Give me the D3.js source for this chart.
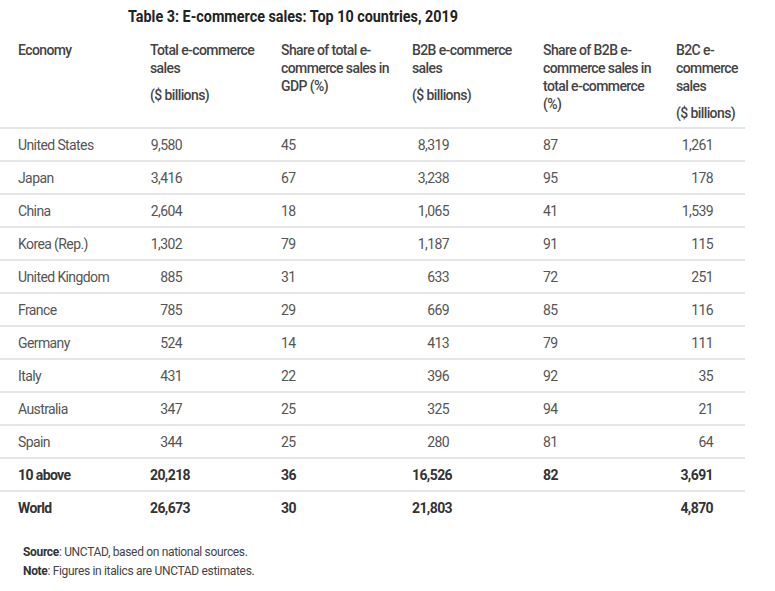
<!DOCTYPE html>
<html>
<head>
<meta charset="utf-8">
<script src="https://cdn.jsdelivr.net/npm/d3@7"></script>
<style>
html,body{margin:0;padding:0;background:#fff;}
svg{display:block;}
</style>
</head>
<body>
<script>
const title = "Table 3: E-commerce sales: Top 10 countries, 2019";
const economies = ["United States","Japan","China","Korea (Rep.)","United Kingdom","France","Germany","Italy","Australia","Spain","10 above","World"];
const totalSales = [9580,3416,2604,1302,885,785,524,431,347,344,20218,26673];
const shareGDP = [45,67,18,79,31,29,14,22,25,25,36,30];
const b2bSales = [8319,3238,1065,1187,633,669,413,396,325,280,16526,21803];
const shareB2B = [87,95,41,91,72,85,79,92,94,81,82,null];
const b2cSales = [1261,178,1539,115,251,116,111,35,21,64,3691,4870];
const boldRows = ["10 above","World"];
const headers = [
  ["Economy"],
  ["Total e-commerce","sales","","($ billions)"],
  ["Share of total e-","commerce sales in","GDP (%)"],
  ["B2B e-commerce","sales","","($ billions)"],
  ["Share of B2B e-","commerce sales in","total e-commerce","(%)"],
  ["B2C e-","commerce","sales","","($ billions)"]
];
const sourceNotes = [["Source",": UNCTAD, based on national sources."],["Note",": Figures in italics are UNCTAD estimates."]];

const W = 775, H = 591;
const svg = d3.select("body").append("svg").attr("width",W).attr("height",H)
  .style("font-family","Roboto, 'Open Sans', sans-serif");

// title
svg.append("text").attr("x",128).attr("y",22)
  .attr("font-size",16).attr("font-weight",700).attr("fill","#222")
  .attr("textLength",330).attr("lengthAdjust","spacingAndGlyphs")
  .text(title);

// column positions
const colX = d3.scaleOrdinal().domain([0,1,2,3,4,5]).range([18,150,281,412,543,676]);

// header
const hdr = svg.append("g");
headers.forEach((lines,ci)=>{
  let yy = 55;
  lines.forEach((ln,li)=>{
    if (ln === "") { yy += 9; return; }
    hdr.append("text").attr("x",colX(ci)).attr("y",yy)
      .attr("font-size",14).attr("font-weight",500).attr("fill","#444")
      .attr("letter-spacing","-0.6px").text(ln);
    yy += 18;
  });
});

// rows
const y = d3.scaleBand().domain(economies).range([128, 128 + 33*economies.length]);
const fmt = d3.format(",");

// lines
const lineYs = [128].concat(economies.slice(0,-1).map(e=>y(e)+y.bandwidth()));
svg.append("g").selectAll("line").data(lineYs).join("line")
  .attr("x1",0).attr("x2",745).attr("y1",d=>d).attr("y2",d=>d)
  .attr("stroke","#dcdcdc").attr("stroke-width",1.5);

const rowsG = svg.append("g").selectAll("g").data(economies).join("g")
  .attr("transform",d=>`translate(0,${y(d)+22})`);

economies.forEach((e,i)=>{
  const g = d3.select(rowsG.nodes()[i]);
  const bold = boldRows.includes(e);
  const fill = bold ? "#333" : "#555";
  const fw = bold ? 700 : 400;
  const cell = (txt,x,anchor)=> g.append("text").attr("x",x).attr("text-anchor",anchor)
     .attr("font-size",14).attr("font-weight",fw).attr("fill",fill)
     .attr("letter-spacing","-0.6px").text(txt);
  cell(e,18,"start");
  if (bold) cell(fmt(totalSales[i]),150,"start"); else cell(fmt(totalSales[i]),182,"end");
  cell(shareGDP[i],281,"start");
  if (bold) cell(fmt(b2bSales[i]),412,"start"); else cell(fmt(b2bSales[i]),449,"end");
  if (shareB2B[i]!==null) cell(shareB2B[i],543,"start");
  cell(fmt(b2cSales[i]),713,"end");
});

// source notes
sourceNotes.forEach((s,i)=>{
  const t = svg.append("text").attr("x",23).attr("y",556+i*19).attr("font-size",12).attr("fill","#444")
    .attr("letter-spacing","-0.33px");
  t.append("tspan").attr("font-weight",700).attr("fill","#333").text(s[0]);
  t.append("tspan").text(s[1]);
});
</script>
</body>
</html>
